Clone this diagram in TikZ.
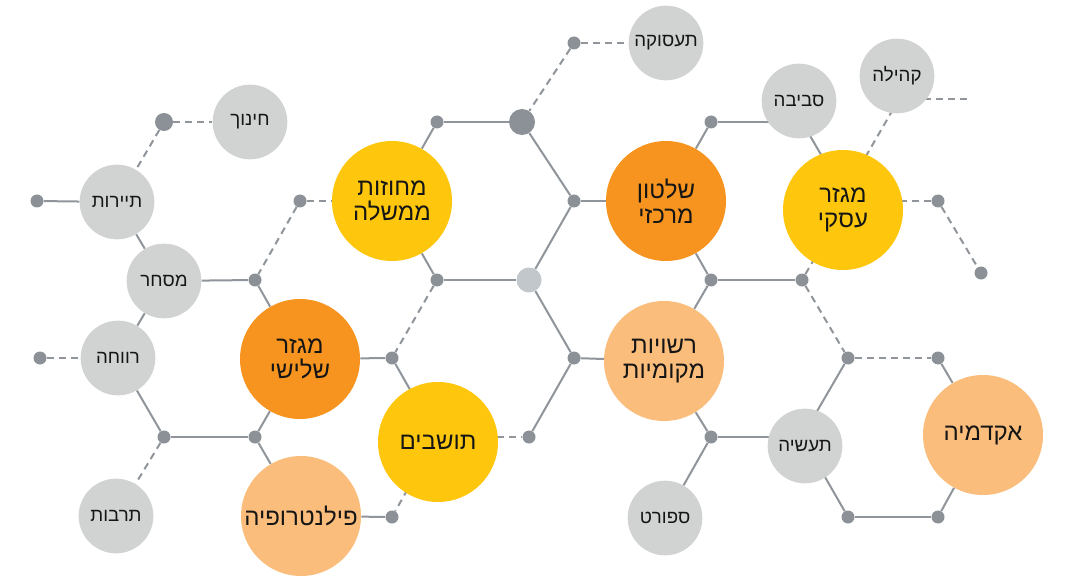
\documentclass[tikz,border=0pt]{standalone}
\usepackage{fontspec}
\newfontfamily\heb[Script=Hebrew]{Liberation Sans}
\TeXXeTstate=1
\definecolor{cyel}{HTML}{FEC70D}
\definecolor{corg}{HTML}{F7941F}
\definecolor{clor}{HTML}{FBBD7B}
\definecolor{cgry}{HTML}{D1D3D2}
\definecolor{cdot}{HTML}{8B9197}
\definecolor{cline}{HTML}{8F959A}
\definecolor{cldot}{HTML}{C2C7CB}
\definecolor{ctxt}{HTML}{151515}
\pgfdeclarelayer{background}
\pgfsetlayers{background,main}
\tikzset{
  smallc/.style={circle, fill=cgry, minimum size=56pt, inner sep=0pt, text=ctxt,
    font=\heb\fontsize{14}{16}\selectfont},
  bigc/.style={circle, minimum size=90pt, inner sep=0pt, text=ctxt, align=center,
    font=\heb\fontsize{18}{19}\selectfont},
  vdot/.style={circle, fill=cdot, minimum size=9.75pt, inner sep=0pt},
  link/.style={draw=cline, line width=1.5pt},
  dlink/.style={link, dash pattern=on 5.25pt off 3.75pt},
}
\begin{document}
\begin{tikzpicture}[x=0.75pt,y=-0.75pt]
\useasboundingbox (0,0) rectangle (1066,577);
% dots
\node[vdot] (d1) at (37,201) {};
\node[vdot, minimum size=13.5pt] (d2) at (164,122) {};
\node[vdot] (d3) at (255,280) {};
\node[vdot] (d4) at (40,358) {};
\node[vdot] (d5) at (164,437) {};
\node[vdot] (d6) at (255,437) {};
\node[vdot] (d7) at (300,201) {};
\node[vdot] (d8) at (392,358) {};
\node[vdot] (d9) at (392,517) {};
\node[vdot] (d10) at (437,122) {};
\node[vdot, minimum size=19.5pt] (bd) at (522,122) {};
\node[vdot] (d11) at (437,280) {};
\node[vdot, fill=cldot, minimum size=18.75pt] (ld) at (529,280) {};
\node[vdot] (d12) at (529,437) {};
\node[vdot] (d13) at (574,43) {};
\node[vdot] (d14) at (574,201) {};
\node[vdot] (d15) at (574,358) {};
\node[vdot] (d16) at (711,122) {};
\node[vdot] (d17) at (711,280) {};
\node[vdot] (d18) at (802,280) {};
\node[vdot] (d19) at (711,437) {};
\node[vdot] (d20) at (938,201) {};
\node[vdot] (d21) at (981,273) {};
\node[vdot] (d22) at (848,358) {};
\node[vdot] (d23) at (938,358) {};
\node[vdot] (d24) at (848,517) {};
\node[vdot] (d25) at (938,517) {};
% lattice points hidden under circles
\coordinate (vtos) at (437,437);
\coordinate (vsev) at (802,122);
\coordinate (vask) at (848,201);
\coordinate (vtan) at (802,437);
\coordinate (vkah) at (899,99);
\coordinate (kahend) at (967,99);
\coordinate (vask2) at (840,201);
% circles
\node[smallc] (tay) at (117,202) {\beginR תיירות\endR};
\node[smallc] (hin) at (250,122) {\beginR חינוך\endR};
\node[smallc] (mis) at (164,281) {\beginR מסחר\endR};
\node[smallc] (rev) at (118,358) {\beginR רווחה\endR};
\node[smallc] (tar) at (116,516) {\beginR תרבות\endR};
\node[bigc, fill=corg] (shl) at (300,359) {\beginR מגזר\endR\\\beginR שלישי\endR};
\node[bigc, fill=clor] (fil) at (301,516) {\beginR פילנטרופיה\endR};
\node[bigc, fill=cyel] (mah) at (392,201) {\beginR מחוזות\endR\\\beginR ממשלה\endR};
\node[bigc, fill=cyel] (tos) at (438,442) {\beginR תושבים\endR};
\node[smallc] (tas) at (666,43) {\beginR תעסוקה\endR};
\node[bigc, fill=corg] (shm) at (666,201) {\beginR שלטון\endR\\\beginR מרכזי\endR};
\node[bigc, fill=clor] (rsh) at (664,361) {\beginR רשויות\endR\\\beginR מקומיות\endR};
\node[smallc] (sev) at (799,101) {\beginR סביבה\endR};
\node[smallc] (kah) at (897,76) {\beginR קהילה\endR};
\node[bigc, fill=cyel] (ask) at (843,210) {\beginR מגזר\endR\\\beginR עסקי\endR};
\node[smallc] (tan) at (805,446) {\beginR תעשיה\endR};
\node[smallc] (spo) at (665,518) {\beginR ספורט\endR};
\node[bigc, fill=clor] (akd) at (983,435) {\beginR אקדמיה\endR};
\begin{pgfonlayer}{background}
\fill[white] (0,0) rectangle (1066,577);
% solid connectors
\draw[link] (d1) -- (tay);
\draw[link] (tay) -- (mis);
\draw[link] (mis) -- (d3);
\draw[link] (d3) -- (shl);
\draw[link] (mis) -- (rev);
\draw[link] (rev) -- (d5);
\draw[link] (d5) -- (d6);
\draw[link] (d6) -- (shl);
\draw[link] (d6) -- (fil);
\draw[link] (shl) -- (d8);
\draw[link] (d8) -- (vtos);
\draw[link] (fil) -- (d9);
\draw[link] (d10) -- (bd);
\draw[link] (d10) -- (mah);
\draw[link] (mah) -- (d11);
\draw[link] (d11) -- (ld);
\draw[link] (bd) -- (d14);
\draw[link] (d14) -- (shm);
\draw[link] (d14) -- (ld);
\draw[link] (ld) -- (d15);
\draw[link] (d15) -- (rsh);
\draw[link] (d15) -- (d12);
\draw[link] (shm) -- (d16);
\draw[link] (d16) -- (vsev);
\draw[link] (vsev) -- (vask);
\draw[link] (shm) -- (d17);
\draw[link] (d17) -- (d18);
\draw[link] (d17) -- (rsh);
\draw[link] (rsh) -- (d19);
\draw[link] (d19) -- (vtan);
\draw[link] (d19) -- (spo);
\draw[link] (vtan) -- (d22);
\draw[link] (vtan) -- (d24);
\draw[link] (d24) -- (d25);
\draw[link] (d25) -- (akd);
\draw[link] (d23) -- (akd);
% dashed connectors
\draw[dlink] (d2) -- (hin);
\draw[dlink] (d2) -- (tay);
\draw[dlink] (d7) -- (mah);
\draw[dlink] (d7) -- (d3);
\draw[dlink] (d11) -- (d8);
\draw[dlink] (d4) -- (rev);
\draw[dlink] (d5) -- (tar);
\draw[dlink] (vtos) -- (d12);
\draw[dlink] (vtos) -- (d9);
\draw[dlink] (d13) -- (tas);
\draw[dlink] (d13) -- (bd);
\draw[dlink] (kahend) -- (vkah);
\draw[dlink] (vkah) -- (vask2);
\draw[dlink] (d20) -- (vask);
\draw[dlink] (d20) -- (d21);
\draw[dlink] (d18) -- (vask);
\draw[dlink] (d18) -- (d22);
\draw[dlink] (d22) -- (d23);
\end{pgfonlayer}
\end{tikzpicture}
\end{document}
